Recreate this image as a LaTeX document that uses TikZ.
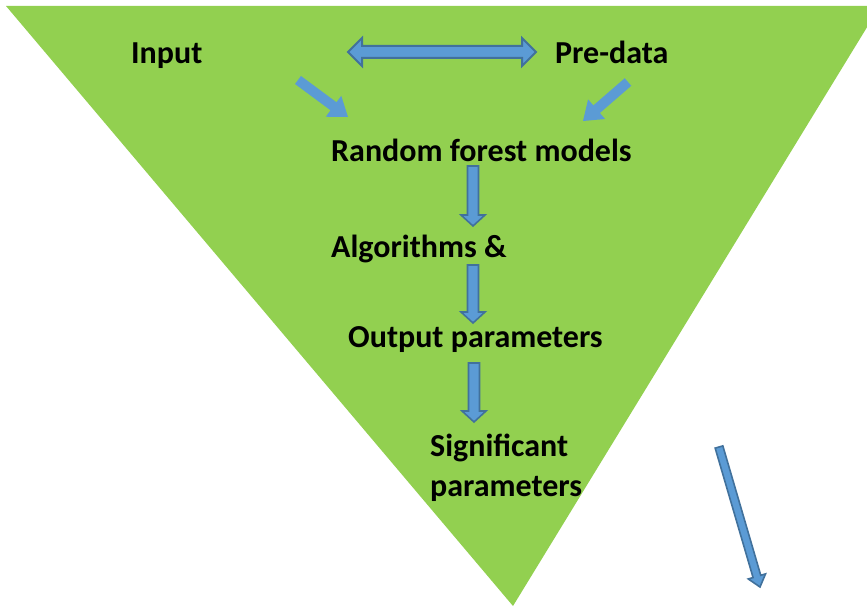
\documentclass[tikz,border=0pt]{standalone}
\usepackage{fontspec}
\setmainfont{Carlito}
\usetikzlibrary{calc}
\definecolor{trigreen}{HTML}{92D050}
\definecolor{arrblue}{HTML}{5B9BD5}
\definecolor{arredge}{HTML}{41719C}
\tikzset{
  lbl/.style={anchor=base west, inner sep=0pt, font=\fontsize{32}{38}\selectfont\bfseries, text=black},
  plainarr/.style={fill=arrblue},
  edgearr/.style={fill=arrblue, draw=arredge, line width=1.6pt, line join=miter},
}
% block arrow: #1 style, #2 from, #3 to, #4 shaft half width, #5 head half width, #6 head length
\newcommand\blockarrow[6]{%
  \path[#1] let \p1=(#2), \p2=(#3), \n1={atan2(\y2-\y1,\x2-\x1)}, \n2={veclen(\x2-\x1,\y2-\y1)} in
    ($(\p1)+(\n1-90:#4)$)
    -- ($(\p1)+(\n1:\n2-#6)+(\n1-90:#4)$)
    -- ($(\p1)+(\n1:\n2-#6)+(\n1-90:#5)$)
    -- (\p2)
    -- ($(\p1)+(\n1:\n2-#6)+(\n1+90:#5)$)
    -- ($(\p1)+(\n1:\n2-#6)+(\n1+90:#4)$)
    -- ($(\p1)+(\n1+90:#4)$) -- cycle;}
\begin{document}
\begin{tikzpicture}[x=1pt,y=1pt]
\useasboundingbox (0,0) rectangle (867,608);
\begin{scope}
\clip (0,0) rectangle (867,608);
\fill[trigreen] (6,602) -- (880,602) -- (513,2) -- cycle;
\end{scope}

% text
\node[lbl] (input) at (131,544) {Input};
\node[lbl] (predata) at (555,544) {Pre-data};
\node[lbl] (rf) at (331,446) {Random forest models};
\node[lbl] (alg) at (331,350) {Algorithms \&};
\node[lbl] (out) at (348,260) {Output parameters};
\node[lbl] (sig) at (430,151) {Significant};
\node[lbl] (par) at (430,112) {parameters};

% arrow end points
\coordinate (dL) at (348,556);
\coordinate (dR) at (536,556);
\coordinate (iA) at (298,528);
\coordinate (iB) at (348,491);
\coordinate (pA) at (628,526);
\coordinate (pB) at (583,487);
\coordinate (a1) at (473,442);
\coordinate (b1) at (473,382);
\coordinate (a2) at (473,343);
\coordinate (b2) at (473,285);
\coordinate (a3) at (474,245);
\coordinate (b3) at (474,186);
\coordinate (s1) at (719,161);
\coordinate (s2) at (760,21);

% double arrow
\path[edgearr, line width=2pt] let \p1=(dL), \p2=(dR) in
  (\p1) -- (\x1+14,\y1+14) -- (\x1+14,\y1+6) -- (\x2-14,\y1+6) -- (\x2-14,\y1+14)
  -- (\p2) -- (\x2-14,\y1-14) -- (\x2-14,\y1-6) -- (\x1+14,\y1-6) -- (\x1+14,\y1-14) -- cycle;

\blockarrow{plainarr}{iA}{iB}{5}{13}{18}
\blockarrow{plainarr}{pA}{pB}{5}{13}{18}
\blockarrow{edgearr}{a1}{b1}{5.5}{12}{11}
\blockarrow{edgearr}{a2}{b2}{5.5}{12}{11}
\blockarrow{edgearr}{a3}{b3}{5.5}{12}{11}
\blockarrow{edgearr}{s1}{s2}{4}{9}{11}
\end{tikzpicture}
\end{document}
